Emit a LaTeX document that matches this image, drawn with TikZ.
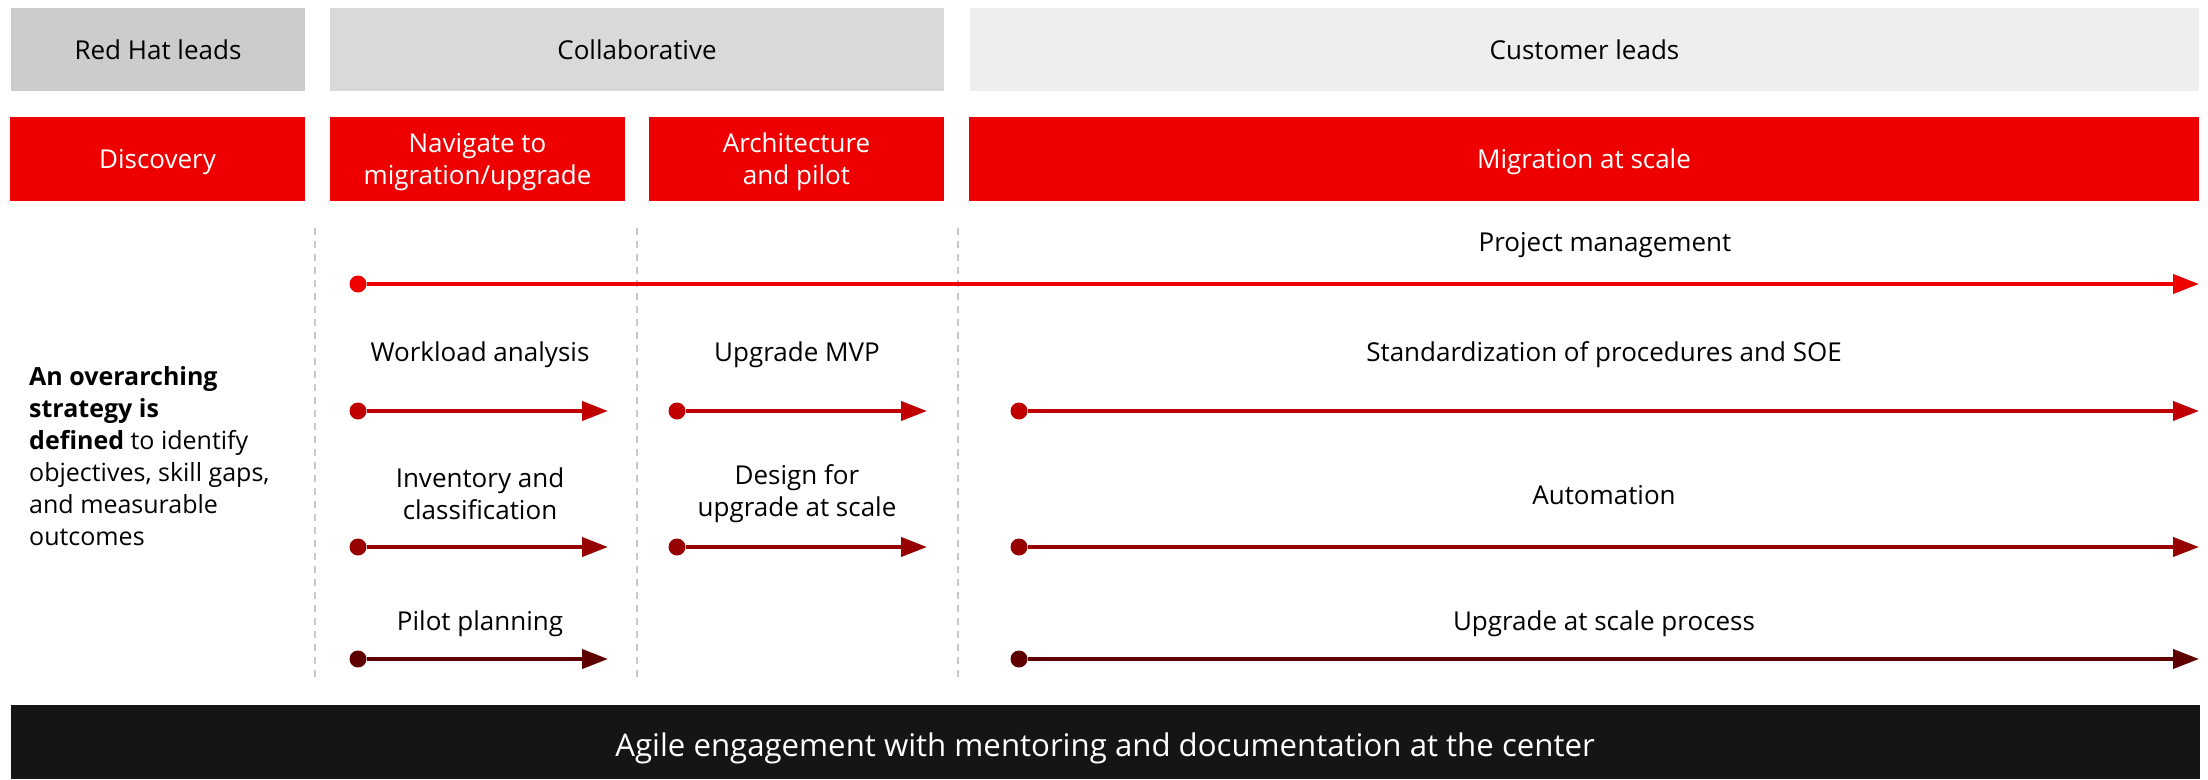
\documentclass[tikz,border=0pt]{standalone}
\usepackage{fontspec}
\setmainfont{Open Sans}
\usetikzlibrary{arrows.meta}
\definecolor{rhred}{HTML}{EE0000}
\definecolor{rowA}{HTML}{C00000}
\definecolor{rowB}{HTML}{960000}
\definecolor{rowC}{HTML}{5F0000}
\definecolor{grayA}{HTML}{CCCCCC}
\definecolor{grayB}{HTML}{D9D9D9}
\definecolor{grayC}{HTML}{EEEEEE}
\definecolor{barblack}{HTML}{151515}
\definecolor{dashgray}{HTML}{C8C8C8}
\begin{document}
\begin{tikzpicture}[x=1pt,y=-1pt,
  lbl/.style={font=\fontsize{26}{32}\selectfont, align=center, inner sep=0pt, text=black},
  hdrbox/.style={lbl, fill=#1, minimum height=83pt},
  phasebox/.style={lbl, text=white, fill=rhred, minimum height=84pt, text depth=0pt},
  dot/.style={circle, fill=#1, minimum size=17pt, inner sep=0pt},
  track/.style={draw=#1, line width=4pt, -{Triangle[length=26pt,width=19pt]}},
  divider/.style={draw=dashgray, line width=2pt, dash pattern=on 7pt off 6pt},
]
\useasboundingbox (0,0) rectangle (2208,779);

% header boxes
\node[hdrbox=grayA, minimum width=294pt] (rh) at (158,49.5) {Red Hat leads};
\node[hdrbox=grayB, minimum width=614pt] (collab) at (637,49.5) {Collaborative};
\node[hdrbox=grayC, minimum width=1229pt] (cust) at (1584.5,49.5) {Customer leads};

% phase boxes
\node[phasebox, minimum width=295pt] (disc) at (157.5,159) {Discovery};
\node[phasebox, minimum width=295pt] (nav) at (477.5,159) {Navigate to\\migration/upgrade};
\node[phasebox, minimum width=295pt] (arch) at (796.5,159) {Architecture\\and pilot};
\node[phasebox, minimum width=1230pt] (mig) at (1584,159) {Migration at scale};

% dividers
\draw[divider] (315,228) -- (315,677);
\draw[divider] (637,228) -- (637,677);
\draw[divider] (958,228) -- (958,677);

% strategy text
\node[anchor=west, align=left, inner sep=0pt, font=\fontsize{25}{32}\selectfont] (strat) at (29,456)
  {\textbf{An overarching}\\\textbf{strategy is}\\\textbf{defined} to identify\\objectives, skill gaps,\\and measurable\\outcomes};

% labels
\node[lbl] (lpm) at (1605,245) {Project management};
\node[lbl] (lwa) at (480,355) {Workload analysis};
\node[lbl] (lmvp) at (797,355) {Upgrade MVP};
\node[lbl] (lsoe) at (1604,355) {Standardization of procedures and SOE};
\node[lbl] (linv) at (480,494) {Inventory and\\classification};
\node[lbl] (ldes) at (797,494) {Design for\\upgrade at scale};
\node[lbl] (laut) at (1604,495) {Automation};
\node[lbl] (lpil) at (480,624) {Pilot planning};
\node[lbl] (lups) at (1604,624) {Upgrade at scale process};

% project management track
\node[dot=rhred] (p0) at (358,284) {};
\coordinate (p0e) at (2199,284);
\draw[track=rhred] (p0) -- (p0e);

% row 1
\node[dot=rowA] (a1) at (358,411) {};
\coordinate (a1e) at (608,411);
\node[dot=rowA] (a2) at (677,411) {};
\coordinate (a2e) at (927,411);
\node[dot=rowA] (a3) at (1019,411) {};
\coordinate (a3e) at (2199,411);
\draw[track=rowA] (a1) -- (a1e);
\draw[track=rowA] (a2) -- (a2e);
\draw[track=rowA] (a3) -- (a3e);

% row 2
\node[dot=rowB] (b1) at (358,547) {};
\coordinate (b1e) at (608,547);
\node[dot=rowB] (b2) at (677,547) {};
\coordinate (b2e) at (927,547);
\node[dot=rowB] (b3) at (1019,547) {};
\coordinate (b3e) at (2199,547);
\draw[track=rowB] (b1) -- (b1e);
\draw[track=rowB] (b2) -- (b2e);
\draw[track=rowB] (b3) -- (b3e);

% row 3
\node[dot=rowC] (c1) at (358,659) {};
\coordinate (c1e) at (608,659);
\node[dot=rowC] (c3) at (1019,659) {};
\coordinate (c3e) at (2199,659);
\draw[track=rowC] (c1) -- (c1e);
\draw[track=rowC] (c3) -- (c3e);

% bottom bar
\node[fill=barblack, minimum width=2189pt, minimum height=74pt, inner sep=0pt] (bar) at (1105.5,742) {};
\node[text=white, inner sep=0pt, text depth=0pt, font=\fontsize{31.2}{36}\selectfont] (bartext) at (1105,745) {Agile engagement with mentoring and documentation at the center};
\end{tikzpicture}
\end{document}
